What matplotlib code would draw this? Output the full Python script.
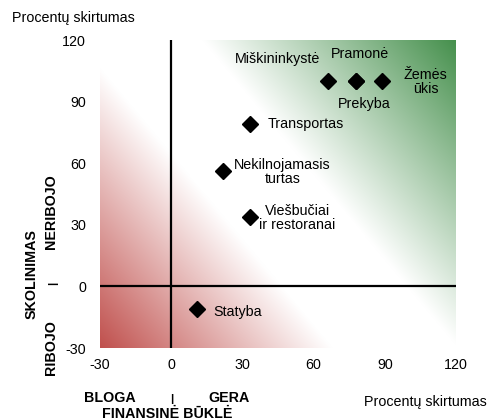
import numpy as np
import matplotlib.pyplot as plt
from matplotlib import font_manager

# sectors: finansine bukle (x) vs skolinimas (y), percent differences
sectors = ['Miškininkystė', 'Pramonė', 'Prekyba', 'Žemės\nūkis', 'Transportas',
           'Nekilnojamasis\nturtas', 'Viešbučiai\nir restoranai', 'Statyba']
fin_x = [66, 78, 78, 89, 33, 22, 33, 11]
skol_y = [100, 100, 100, 100, 79, 56, 34, -11]
ticks = [-30, 0, 30, 60, 90, 120]

# label offsets in pixels (dx, dy, ha)
offs = [(-50, 22, 'center'), (4, 27, 'center'), (8, -23, 'center'), (43, -1, 'center'),
        (18, 0, 'left'), (59, -1, 'center'), (48, -1, 'center'), (16, -3, 'left')]

names = [f.name for f in font_manager.fontManager.ttflist]
fam = 'Liberation Sans Narrow' if 'Liberation Sans Narrow' in names else 'Liberation Sans'
plt.rcParams['font.family'] = [fam, 'DejaVu Sans']
plt.rcParams['axes.unicode_minus'] = False
fs = 11.5 if fam == 'Liberation Sans Narrow' else 10.3

W, H = 495, 420
fig = plt.figure(figsize=(W / 100, H / 100), dpi=100)
L, R, T, B = 100, 456, 40, 348
ax = fig.add_axes([L / W, (H - B) / H, (R - L) / W, (B - T) / H])

# diagonal red-white-green background
nx, ny = 360, 310
px = np.linspace(0, R - L, nx)
py = np.linspace(0, B - T, ny)
P, Q = np.meshgrid(px, py)
s = (0.77 * P + 0.64 * Q) / (0.77 * (R - L) + 0.64 * (B - T))
red = np.array([192, 80, 77]) / 255
green = np.array([70, 144, 77]) / 255
img = np.ones((ny, nx, 3))
tr = np.clip(1 - s / 0.38, 0, 1)[..., None]
tg = np.clip((s - 0.586) / (1 - 0.586), 0, 1)[..., None]
img = img * (1 - tr) + red * tr
img = img * (1 - tg) + green * tg
ax.imshow(img, extent=[-30, 120, -30, 120], origin='lower', aspect='auto', zorder=0)

ax.axhline(0, color='black', lw=1.6, zorder=1)
ax.axvline(0, color='black', lw=1.6, zorder=1)
ax.plot(fin_x, skol_y, 'D', color='black', ms=8.5, ls='none', zorder=3)

for name, x, y, (dx, dy, ha) in zip(sectors, fin_x, skol_y, offs):
    ax.annotate(name, (x, y), xytext=(dx, dy), textcoords='offset pixels',
                ha=ha, va='center', fontsize=fs, linespacing=1.0)

ax.set_xlim(-30, 120)
ax.set_ylim(-30, 120)
ax.set_xticks(ticks)
ax.set_yticks(ticks)
ax.tick_params(length=0, labelsize=fs)
ax.tick_params(axis='y', pad=10)
ax.tick_params(axis='x', pad=7)
for sp in ax.spines.values():
    sp.set_visible(False)

def ft(x, y, t, size=fs, **kw):
    fig.text(x / W, 1 - y / H, t, fontsize=size, ha='center', va='center', **kw)

ft(73, 18, 'Procentų skirtumas')
ft(425, 402, 'Procentų skirtumas')
ft(110, 398, 'BLOGA', weight='bold')
ft(172, 399, '|', size=fs * 0.8, weight='bold')
ft(229, 398, 'GERA', weight='bold')
ft(167, 414, 'FINANSINĖ BŪKLĖ', weight='bold')
ft(32, 274, 'SKOLINIMAS', weight='bold', rotation=90)
ft(51, 212, 'NERIBOJO', weight='bold', rotation=90)
ft(53, 283, '|', size=fs * 0.8, weight='bold', rotation=90)
ft(51, 348, 'RIBOJO', weight='bold', rotation=90)

fig.savefig('out.png', dpi=100)
